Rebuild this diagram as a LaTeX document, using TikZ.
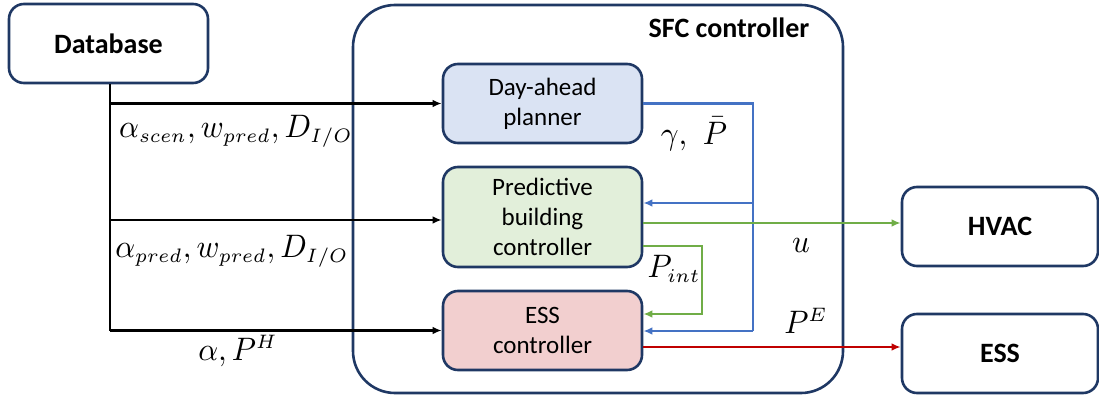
\documentclass[tikz,border=0pt]{standalone}
\usepackage{fontspec}
\setsansfont{Carlito}
\usetikzlibrary{arrows.meta}
\DeclareMathSizes{10}{10}{6}{5}
\definecolor{navy}{RGB}{31,56,100}
\definecolor{lineblue}{RGB}{68,114,196}
\definecolor{linegreen}{RGB}{112,173,71}
\definecolor{linered}{RGB}{192,0,0}
\definecolor{fillblue}{RGB}{218,227,243}
\definecolor{fillgreen}{RGB}{226,239,218}
\definecolor{fillpink}{RGB}{242,207,207}
\newcommand{\bigmath}[1]{\scalebox{3.1}[3.25]{\fontsize{10}{12}\selectfont$#1$}}
\tikzset{
  blk/.style={draw=navy, line width=2.6pt, rounded corners=15pt, align=center,
    font=\sffamily\fontsize{25}{30}\selectfont, minimum width=199pt, inner sep=0pt},
  outbox/.style={blk, font=\sffamily\bfseries\fontsize{28}{33}\selectfont},
  tip/.style={-{Latex[length=9pt,width=7.5pt]}},
  feed/.style={line width=2.6pt, black},
  bfeed/.style={line width=2.3pt, lineblue},
  gfeed/.style={line width=2.3pt, linegreen},
  rfeed/.style={line width=2.3pt, linered},
  mlab/.style={inner sep=0pt}
}
\begin{document}
\begin{tikzpicture}[x=1pt,y=-1pt]
\useasboundingbox (0,0) rectangle (1099,398);

% controller enclosure
\node[draw=navy, line width=2.6pt, rounded corners=42pt, minimum width=490pt,
      minimum height=388pt, inner sep=0pt] (sfc) at (598,199) {};
\node[font=\sffamily\bfseries\fontsize{28}{33}\selectfont, inner sep=0pt] (sfct) at (729,28) {SFC controller};

% blocks
\node[outbox, minimum height=79pt] (db) at (108.5,43.5) {Database};
\node[blk, fill=fillblue, minimum height=79pt] (pl) at (542.5,103.5) {Day-ahead\\planner};
\node[blk, fill=fillgreen, minimum height=100pt] (pbc) at (542.5,217) {Predictive\\building\\controller};
\node[blk, fill=fillpink, minimum height=79pt] (esc) at (542.5,330.5) {ESS\\controller};
\node[outbox, minimum width=196pt, minimum height=79pt] (hvac) at (1000,226.5) {HVAC};
\node[outbox, minimum width=196pt, minimum height=79pt] (ess) at (1000,353.5) {ESS};

% data feed from the database
\coordinate (dbx) at ([xshift=1.5pt]db.south);
\draw[feed] (dbx) -- (dbx |- esc.west);
\draw[feed, tip] (dbx |- pl.west) -- (pl.west);
\draw[feed, tip] (dbx |- 0,220) -- ([yshift=-3pt]pbc.west);
\draw[feed, tip] (dbx |- esc.west) -- (esc.west);

% day-ahead targets
\coordinate (bj) at (753,103.5);
\draw[bfeed] (pl.east) -- (bj) -- (bj |- 0,331);
\draw[bfeed, tip] (bj |- 0,203) -- ([yshift=14pt]pbc.east);
\draw[bfeed, tip] (bj |- 0,331) -- ([yshift=-0.5pt]esc.east);

% building controller outputs
\draw[gfeed, tip] ([yshift=-6pt]pbc.east) -- ([yshift=-6pt]pbc.east -| hvac.west);
\draw[gfeed, tip] ([yshift=-29pt]pbc.east) -- ++(59,0) |- ([yshift=16.5pt]esc.east);

% storage command
\draw[rfeed, tip] ([yshift=-16.5pt]esc.east) -- ([yshift=-16.5pt]esc.east -| ess.west);

% signal labels
\node[mlab] (l1) at (236,131) {\bigmath{\alpha_{scen}, w_{pred}, D_{I/O}}};
\node[mlab] (l2) at (232,251) {\bigmath{\alpha_{pred}, w_{pred}, D_{I/O}}};
\node[mlab] (l3) at (238,351) {\bigmath{\alpha, P^H}};
\node[mlab] (l4) at (694,134) {\bigmath{\gamma,\ \bar{P}}};
\node[mlab] (l5) at (801,246) {\bigmath{u}};
\node[mlab] (l6) at (674,269) {\bigmath{P_{int}}};
\node[mlab] (l7) at (806,321) {\bigmath{P^E}};
\end{tikzpicture}
\end{document}
